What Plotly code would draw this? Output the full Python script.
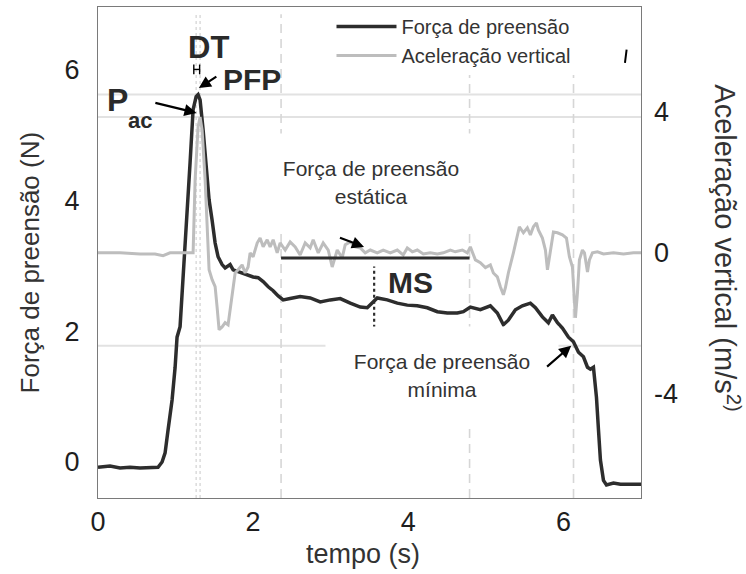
import plotly.graph_objects as go

# Grip force (N) over time (s)
force_t = [0, 0.155, 0.284, 0.413, 0.542, 0.671, 0.774, 0.826, 0.865, 0.903,
           0.955, 0.994, 1.019, 1.058, 1.097, 1.148, 1.187, 1.226, 1.265, 1.290,
           1.316, 1.355, 1.394, 1.432, 1.471, 1.510, 1.548, 1.600, 1.639, 1.703,
           1.742, 1.806, 1.871, 1.935, 2.000, 2.065, 2.129, 2.194, 2.258, 2.323,
           2.387, 2.477, 2.568, 2.606, 2.735, 2.865, 2.994, 3.123, 3.252, 3.381,
           3.471, 3.535, 3.600, 3.729, 3.858, 3.987, 4.116, 4.245, 4.374, 4.503,
           4.632, 4.710, 4.800, 4.929, 5.058, 5.148, 5.226, 5.290, 5.381, 5.471,
           5.574, 5.639, 5.729, 5.806, 5.858, 5.923, 5.987, 6.065, 6.129, 6.194,
           6.258, 6.310, 6.348, 6.387, 6.426, 6.452, 6.477, 6.516, 6.555, 6.645,
           6.735, 6.865, 7.0]
force_n = [-0.08, -0.06, -0.09, -0.08, -0.09, -0.08, -0.08, 0.0, 0.14, 0.49,
           0.95, 1.45, 1.91, 2.07, 2.79, 3.66, 4.58, 5.39, 5.59, 5.62,
           5.54, 5.08, 4.52, 4.01, 3.70, 3.35, 3.14, 3.02, 2.97, 3.02,
           2.94, 2.91, 2.89, 2.86, 2.83, 2.82, 2.76, 2.68, 2.62, 2.54,
           2.48, 2.50, 2.53, 2.53, 2.51, 2.45, 2.48, 2.50, 2.43, 2.37,
           2.36, 2.43, 2.51, 2.48, 2.43, 2.40, 2.39, 2.36, 2.30, 2.28,
           2.28, 2.30, 2.37, 2.33, 2.39, 2.28, 2.10, 2.17, 2.33, 2.39,
           2.43, 2.36, 2.22, 2.13, 2.25, 2.13, 2.05, 1.91, 1.84, 1.68,
           1.61, 1.45, 1.42, 1.45, 0.99, 0.49, 0.03, -0.28, -0.35, -0.32,
           -0.34, -0.34, -0.34]

# Vertical acceleration (m/s^2) over time (s)
acc_t = [0, 0.284, 0.542, 0.735, 0.839, 0.929, 1.123, 1.226, 1.252, 1.290,
         1.316, 1.342, 1.381, 1.406, 1.432, 1.471, 1.510, 1.535, 1.561, 1.600,
         1.639, 1.677, 1.703, 1.742, 1.768, 1.806, 1.858, 1.897, 1.935, 1.961,
         2.000, 2.052, 2.090, 2.129, 2.181, 2.219, 2.258, 2.310, 2.348, 2.413,
         2.477, 2.542, 2.606, 2.671, 2.735, 2.774, 2.839, 2.903, 2.968, 3.019,
         3.084, 3.148, 3.187, 3.252, 3.316, 3.381, 3.445, 3.510, 3.600, 3.677,
         3.768, 3.858, 3.935, 3.987, 4.052, 4.116, 4.194, 4.284, 4.374, 4.452,
         4.542, 4.606, 4.697, 4.761, 4.800, 4.865, 4.929, 4.994, 5.058, 5.097,
         5.148, 5.187, 5.226, 5.252, 5.290, 5.355, 5.406, 5.432, 5.484, 5.535,
         5.574, 5.613, 5.652, 5.677, 5.729, 5.768, 5.794, 5.832, 5.871, 5.923,
         5.987, 6.039, 6.077, 6.116, 6.129, 6.155, 6.181, 6.206, 6.245, 6.271,
         6.310, 6.335, 6.374, 6.439, 6.516, 6.645, 6.774, 6.903, 7.0]
acc_v = [0, 0, -0.03, -0.03, -0.08, 0, 0, 0, 2.07, 3.57,
         3.85, 3.48, 2.07, 0.65, -0.48, -0.76, -0.96, -1.53, -2.18, -2.10,
         -1.98, -2.04, -1.61, -0.96, -0.57, -0.48, -0.34, -0.57, -0.40, 0,
         -0.11, 0.28, 0.42, 0.17, 0.37, 0.17, 0.37, 0, 0.28, 0.08,
         0.31, 0.17, -0.06, 0.28, 0.14, 0.37, 0, 0.28, 0.08, -0.40,
         0.08, -0.14, 0.23, 0.31, 0.17, 0.14, 0, 0.08, 0, 0.08,
         0, 0.08, -0.06, 0.14, 0.03, 0.08, -0.03, 0, -0.03, 0,
         0.08, 0.03, 0.08, 0, 0.17, -0.20, -0.28, -0.42, -0.34, -0.57,
         -0.68, -0.96, -1.19, -0.99, -0.57, 0, 0.45, 0.74, 0.57, 0.71,
         0.51, 0.74, 0.85, 0.65, 0.42, 0.08, -0.48, 0, 0.59, 0.57,
         0.51, 0.42, -0.11, -0.40, -0.96, -1.84, -1.13, -0.20, 0.08, 0,
         -0.54, -0.20, 0, 0.03, -0.03, 0, -0.03, 0, 0]

# Event markers
t_dt = [1.265, 1.316]          # delay between acceleration and force peaks
t_phases = [2.36, 4.79, 6.13]  # static phase start/end, minimum force instant
t_ms = 3.56                    # MS marker
f_ms = [1.87, 2.99]
static_level = 3.12
min_force_level = 1.78

x_ticks = [0, 2, 4, 6]
left_ticks = [0, 2, 4, 6]
right_ticks = [-4, 0, 4]

FONT = "Liberation Sans, Arial, sans-serif"
DARK = "#2d2d2d"
LIGHT = "#bdbdbd"
GRID = "#e2e2e2"

fig = go.Figure()
fig.add_trace(go.Scatter(x=acc_t, y=acc_v, mode="lines", name="Aceleração vertical",
                         line=dict(color=LIGHT, width=3), yaxis="y2", legendrank=2))
fig.add_trace(go.Scatter(x=force_t, y=force_n, mode="lines", name="Força de preensão",
                         line=dict(color=DARK, width=3.5), legendrank=1))

shapes = []
# reference levels: peak force, peak acceleration, minimum force
shapes.append(dict(type="line", xref="paper", x0=0, x1=1, yref="y",
                   y0=max(force_n), y1=max(force_n), line=dict(color=GRID, width=2), layer="below"))
shapes.append(dict(type="line", xref="paper", x0=0, x1=1, yref="y2",
                   y0=max(acc_v), y1=max(acc_v), line=dict(color=GRID, width=2), layer="below"))
shapes.append(dict(type="line", xref="paper", x0=0, x1=1, yref="y",
                   y0=min_force_level, y1=min_force_level, line=dict(color=GRID, width=2), layer="below"))
for t in t_dt:
    shapes.append(dict(type="line", xref="x", x0=t, x1=t, yref="paper", y0=0, y1=0.985,
                       line=dict(color="#d2d2d2", width=1.2, dash="3px,3px"), layer="below"))
for t in t_phases:
    shapes.append(dict(type="line", xref="x", x0=t, x1=t, yref="paper", y0=0, y1=0.985,
                       line=dict(color="#d6d6d6", width=1.6, dash="9px,6px"), layer="below"))
# static grip force segment
shapes.append(dict(type="line", xref="x", x0=t_phases[0], x1=t_phases[1], yref="y",
                   y0=static_level, y1=static_level, line=dict(color=DARK, width=3)))
# MS marker
shapes.append(dict(type="line", xref="x", x0=t_ms, x1=t_ms, yref="y", y0=f_ms[0], y1=f_ms[1],
                   line=dict(color=DARK, width=2.2, dash="dot")))
# DT bracket
shapes.append(dict(type="line", xref="x", x0=1.235, x1=1.235, yref="y", y0=5.93, y1=6.08,
                   line=dict(color="black", width=1.4)))
shapes.append(dict(type="line", xref="x", x0=1.31, x1=1.31, yref="y", y0=5.93, y1=6.08,
                   line=dict(color="black", width=1.4)))
shapes.append(dict(type="line", xref="x", x0=1.235, x1=1.31, yref="y", y0=6.005, y1=6.005,
                   line=dict(color="black", width=1.4)))
# small tick near the top right corner
shapes.append(dict(type="line", xref="paper", x0=0.9735, x1=0.9705, yref="paper", y0=0.913, y1=0.886,
                   line=dict(color="black", width=2)))

ann = []

# white-backed descriptive labels (drawn first so arrows sit on top)
label = dict(family=FONT, size=21, color="#333333")
ann.append(dict(x=3.523, y=4.27, xref="x", yref="y", text="Força de preensão<br>estática",
                showarrow=False, font=label, bgcolor="white", width=196, height=93, borderpad=2))
ann.append(dict(x=4.44, y=1.33, xref="x", yref="y", text="Força de preensão<br>mínima",
                showarrow=False, font=label, bgcolor="white", width=228, height=93, borderpad=2))


def arrow(x_head, y_head, x_tail, y_tail):
    ann.append(dict(x=x_head, y=y_head, ax=x_tail, ay=y_tail, xref="x", yref="y",
                    axref="x", ayref="y", text="", showarrow=True, arrowhead=2,
                    arrowsize=1.1, arrowwidth=2.2, arrowcolor="black"))


arrow(1.30, 5.72, 1.545, 5.91)   # PFP
arrow(1.27, 5.34, 0.72, 5.50)    # Pac
arrow(3.43, 3.29, 3.10, 3.44)    # static force
arrow(6.10, 1.78, 5.77, 1.44)    # minimum force

bold = dict(family=FONT, size=30, color="#2a2a2a")
ann.append(dict(x=1.42, y=6.34, xref="x", yref="y", text="<b>DT</b>", showarrow=False,
                font=dict(family=FONT, size=31, color="#2a2a2a")))
ann.append(dict(x=1.99, y=5.85, xref="x", yref="y", text="<b>PFP</b>", showarrow=False, font=bold))
ann.append(dict(x=0.245, y=5.54, xref="x", yref="y", text="<b>P</b>", showarrow=False,
                font=dict(family=FONT, size=32, color="#2a2a2a")))
ann.append(dict(x=0.54, y=5.22, xref="x", yref="y", text="<b>ac</b>", showarrow=False,
                font=dict(family=FONT, size=22, color="#2a2a2a")))
ann.append(dict(x=4.026, y=2.74, xref="x", yref="y", text="<b>MS</b>", showarrow=False, font=bold))

ann.append(dict(x=-0.125, y=0.48, xref="paper", yref="paper", text="Força de preensão (N)",
                textangle=-90, showarrow=False, xanchor="center", yanchor="middle",
                font=dict(family=FONT, size=26, color="#333333")))
ann.append(dict(x=1.158, y=0.509, xref="paper", yref="paper",
                text="Aceleração vertical (m/s<sup>2)</sup>", textangle=90, showarrow=False,
                xanchor="center", yanchor="middle",
                font=dict(family=FONT, size=29, color="#333333")))
ann.append(dict(x=0.488, y=-0.114, xref="paper", yref="paper", text="tempo (s)",
                showarrow=False, xanchor="center", yanchor="middle",
                font=dict(family=FONT, size=27, color="#333333")))

tick_font = dict(family=FONT, size=27, color="#1e1e1e")
fig.update_layout(
    width=746, height=574,
    margin=dict(l=98, r=105, t=7, b=76),
    paper_bgcolor="white", plot_bgcolor="white",
    font=dict(family=FONT, color="#333333"),
    xaxis=dict(range=[0, 7], tickvals=x_ticks, tickfont=tick_font, showgrid=False,
               zeroline=False, showline=True, mirror=True, linecolor="#7a7a7a", linewidth=1,
               ticks="", ticklabelstandoff=0),
    yaxis=dict(range=[-0.55, 6.96], tickvals=left_ticks, tickfont=tick_font, showgrid=False,
               zeroline=False, showline=True, mirror=True, linecolor="#7a7a7a", linewidth=1,
               ticks="", ticklabelstandoff=12),
    yaxis2=dict(range=[-6.95, 6.97], tickvals=right_ticks, ticktext=[str(v) for v in right_ticks],
                tickfont=tick_font, overlaying="y", side="right", showgrid=False, zeroline=False,
                showline=False, ticks="", ticklabelstandoff=12),
    legend=dict(x=0.43, y=1.0, xanchor="left", yanchor="top", bgcolor="white",
                font=dict(family=FONT, size=20, color="#333333"), itemwidth=60,
                tracegroupgap=0),
    shapes=shapes,
    annotations=ann,
)

fig.write_html("out.html")
